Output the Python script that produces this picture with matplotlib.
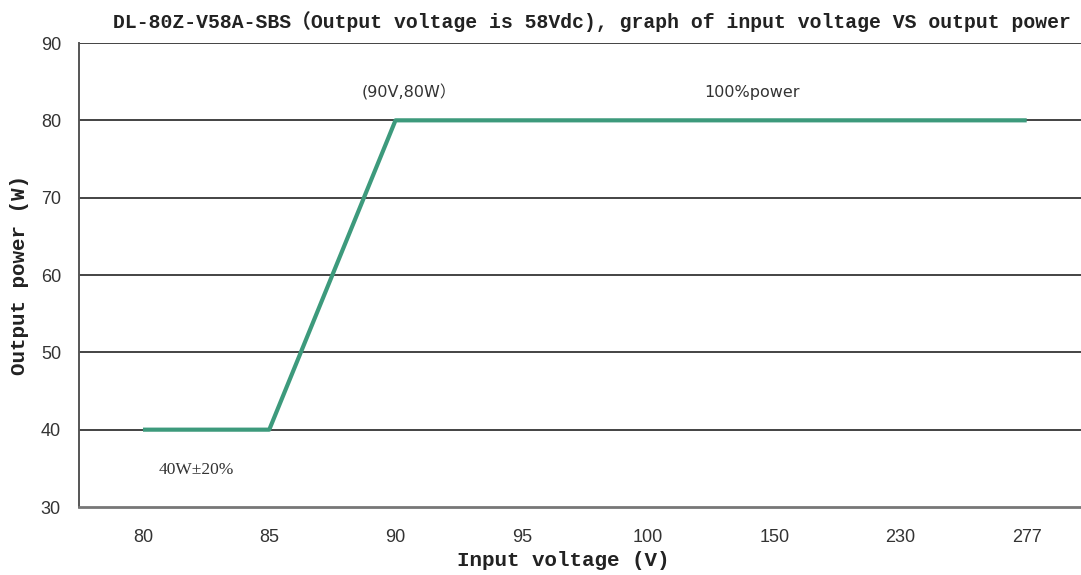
import matplotlib
matplotlib.use("Agg")
import matplotlib.pyplot as plt

# input voltage categories (evenly spaced on the axis) and output power
voltages = ["80", "85", "90", "95", "100", "150", "230", "277"]
power = [40, 40, 80, 80, 80, 80, 80, 80]
y_ticks = [30, 40, 50, 60, 70, 80, 90]

title = "DL-80Z-V58A-SBS\uff08Output voltage is 58Vdc), graph of input voltage VS output power"
mono = ["Liberation Mono", "Noto Sans CJK SC", "DejaVu Sans"]
serif = ["Liberation Serif", "Noto Sans CJK SC", "DejaVu Sans"]

fig = plt.figure(figsize=(10.81, 5.75), dpi=100)
ax = fig.add_axes([79 / 1081, 1 - 507 / 575, 1 - 79 / 1081, (507 - 43) / 575])

x = list(range(len(voltages)))
ax.plot(x, power, color="#3d9a7c", linewidth=3.0, solid_capstyle="butt", zorder=3)

ax.set_xlim(-0.507, 7.43)
ax.set_ylim(30, 90)
ax.set_xticks(x)
ax.set_xticklabels(voltages)
ax.set_yticks(y_ticks)

for t in y_ticks[1:]:
    ax.axhline(t, color="#111111", linewidth=1.1, zorder=1)

ax.tick_params(axis="both", length=0, labelsize=13, labelcolor="#333333")
ax.tick_params(axis="x", pad=16)
ax.tick_params(axis="y", pad=13)
for lab in ax.get_xticklabels() + ax.get_yticklabels():
    lab.set_family("Liberation Sans")

ax.spines["right"].set_visible(False)
ax.spines["top"].set_visible(False)
ax.spines["left"].set_color("#555555")
ax.spines["bottom"].set_color("#777777")
ax.spines["left"].set_linewidth(1.4)
ax.spines["bottom"].set_linewidth(2.0)

# annotations
ax.text(2.11, 83.6, "(90V,80W\uff09", ha="center", va="center", fontsize=11.5,
        color="#333333", family=["DejaVu Sans", "Noto Sans CJK SC"])
ax.text(4.82, 83.6, "100%power", ha="center", va="center", fontsize=11.5,
        color="#333333", family="DejaVu Sans")
ax.text(0.42, 34.8, "40W\u00b120%", ha="center", va="center", fontsize=12.5,
        color="#333333", family=serif)

fig.text(592 / 1081, 1 - 22 / 575, title, ha="center", va="center",
         fontsize=14.2, fontweight="bold", color="#222222", family=mono)
fig.text(563 / 1081, 1 - 561 / 575, "Input voltage (V)", ha="center", va="center",
         fontsize=15, fontweight="bold", color="#222222", family=mono)
fig.text(20 / 1081, 1 - 275 / 575, "Output power (W)", ha="center", va="center",
         rotation=90, fontsize=15, fontweight="bold", color="#222222", family=mono)

fig.savefig("out.png", dpi=100, facecolor="white")
